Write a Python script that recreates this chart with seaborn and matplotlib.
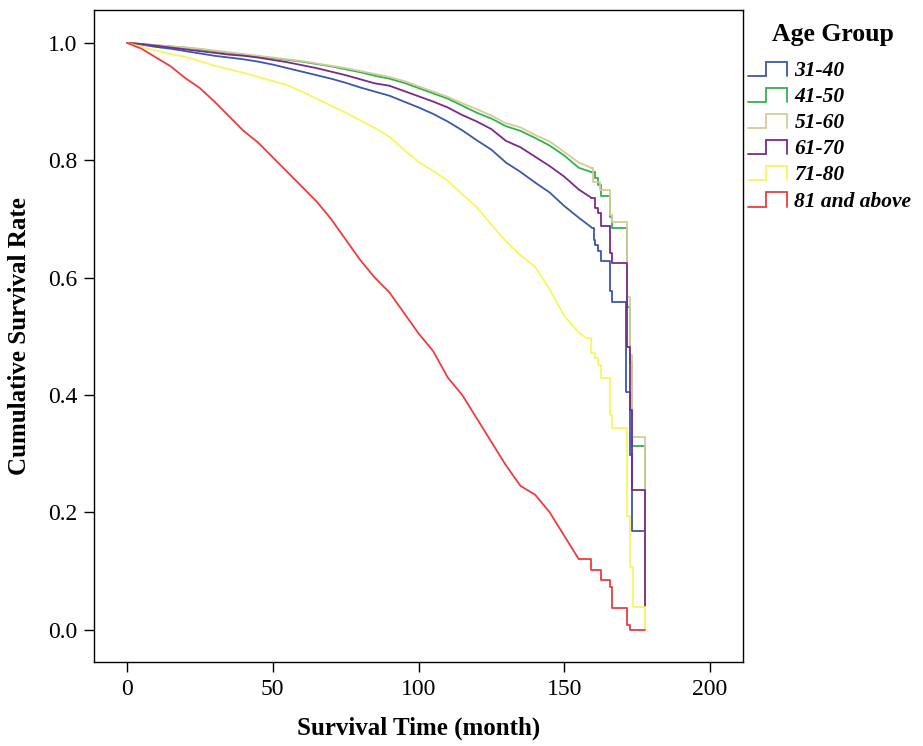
"""
Kaplan-Meier survival curves by age group
"""
import numpy as np
import pandas as pd
import matplotlib
matplotlib.use('Agg')
import matplotlib.pyplot as plt
from matplotlib.lines import Line2D
from matplotlib.legend_handler import HandlerLine2D
import seaborn as sns

# Survival estimates (month, cumulative survival)
t_3140 = [0, 5, 10, 15, 20, 25, 30, 35, 40, 45, 50, 55, 60, 65, 70, 75, 80, 85, 90, 95,
          100, 105, 110, 115, 120, 125, 130, 135, 140, 145, 150, 155, 159.5, 160.2, 160.6,
          161.5, 162.6, 165.8, 166.5, 171.3, 172.6, 173.3, 177.8]
s_3140 = [1.0, 0.997, 0.993, 0.99, 0.986, 0.982, 0.978, 0.975, 0.972, 0.968, 0.963, 0.957,
          0.951, 0.945, 0.939, 0.932, 0.924, 0.917, 0.910, 0.900, 0.890, 0.879, 0.866, 0.851,
          0.834, 0.818, 0.796, 0.780, 0.762, 0.745, 0.722, 0.702, 0.685, 0.664, 0.656, 0.645,
          0.629, 0.578, 0.559, 0.405, 0.298, 0.169, 0.04]

t_4150 = [0, 5, 10, 15, 20, 25, 30, 35, 40, 45, 50, 55, 60, 65, 70, 75, 80, 85, 90, 95,
          100, 105, 110, 115, 120, 125, 130, 135, 140, 145, 150, 155, 159.3, 160.4, 161.5,
          162.6, 165.8, 166.5, 171.6, 172.6, 173.3, 177.8]
s_4150 = [1.0, 0.998, 0.996, 0.994, 0.992, 0.989, 0.986, 0.983, 0.98, 0.977, 0.974, 0.971,
          0.968, 0.964, 0.96, 0.955, 0.950, 0.944, 0.939, 0.932, 0.923, 0.914, 0.905, 0.893,
          0.881, 0.871, 0.858, 0.850, 0.838, 0.825, 0.808, 0.787, 0.780, 0.770, 0.758, 0.739,
          0.704, 0.685, 0.55, 0.455, 0.313, 0.04]

t_5160 = [0, 5, 10, 15, 20, 25, 30, 35, 40, 45, 50, 55, 60, 65, 70, 75, 80, 85, 90, 95,
          100, 105, 110, 115, 120, 125, 130, 135, 140, 145, 150, 155, 159.3, 160.0, 162.4,
          165.8, 166.3, 171.6, 172.6, 173.3, 177.8]
s_5160 = [1.0, 0.998, 0.996, 0.994, 0.992, 0.99, 0.987, 0.984, 0.981, 0.978, 0.975, 0.972,
          0.969, 0.965, 0.961, 0.957, 0.952, 0.947, 0.942, 0.935, 0.926, 0.917, 0.908, 0.897,
          0.887, 0.876, 0.863, 0.856, 0.843, 0.832, 0.814, 0.796, 0.787, 0.763, 0.75, 0.707,
          0.695, 0.567, 0.468, 0.329, 0.04]

t_6170 = [0, 5, 10, 15, 20, 25, 30, 35, 40, 45, 50, 55, 60, 65, 70, 75, 80, 85, 90, 95,
          100, 105, 110, 115, 120, 125, 130, 135, 140, 145, 150, 155, 159.3, 160.4, 161.5,
          162.6, 165.8, 166.5, 171.6, 172.6, 173.3, 177.8]
s_6170 = [1.0, 0.998, 0.995, 0.992, 0.989, 0.986, 0.983, 0.98, 0.978, 0.975, 0.971, 0.967,
          0.962, 0.957, 0.951, 0.945, 0.938, 0.931, 0.927, 0.918, 0.909, 0.900, 0.890, 0.877,
          0.866, 0.853, 0.833, 0.822, 0.806, 0.790, 0.772, 0.750, 0.736, 0.719, 0.71, 0.688,
          0.642, 0.625, 0.482, 0.375, 0.238, 0.04]

t_7180 = [0, 5, 10, 15, 20, 25, 30, 35, 40, 45, 50, 55, 60, 65, 70, 75, 80, 85, 90, 95,
          100, 105, 110, 115, 120, 125, 130, 135, 140, 145, 150, 155, 157.6, 159.3, 160.6,
          161.7, 162.7, 165.8, 166.5, 171.6, 172.6, 173.7, 177.8]
s_7180 = [1.0, 0.993, 0.987, 0.981, 0.976, 0.969, 0.961, 0.955, 0.949, 0.942, 0.935, 0.928,
          0.917, 0.905, 0.893, 0.881, 0.868, 0.855, 0.84, 0.818, 0.797, 0.782, 0.765, 0.742,
          0.72, 0.69, 0.662, 0.638, 0.618, 0.580, 0.535, 0.506, 0.497, 0.472, 0.463, 0.451,
          0.429, 0.366, 0.344, 0.193, 0.107, 0.039, 0.0]

t_81up = [0, 5, 10, 15, 20, 25, 30, 35, 40, 45, 50, 55, 60, 65, 70, 75, 80, 85, 90, 95,
          100, 105, 110, 115, 120, 125, 130, 135, 140, 145, 150, 155, 159.3, 162.5, 165.8,
          166.2, 171.5, 172.5, 177.8]
s_81up = [1.0, 0.99, 0.975, 0.96, 0.94, 0.923, 0.90, 0.875, 0.85, 0.83, 0.805, 0.78,
          0.755, 0.73, 0.70, 0.665, 0.63, 0.60, 0.575, 0.54, 0.505, 0.475, 0.43, 0.40, 0.36,
          0.32, 0.28, 0.245, 0.23, 0.20, 0.16, 0.12, 0.102, 0.085, 0.073, 0.037, 0.008,
          0.0, 0.0]

groups = ['31-40', '41-50', '51-60', '61-70', '71-80', '81 and above']
times = [t_3140, t_4150, t_5160, t_6170, t_7180, t_81up]
survival = [s_3140, s_4150, s_5160, s_6170, s_7180, s_81up]
# month from which the sparse tail is drawn as explicit steps
step_start = [159.5, 159.3, 159.3, 159.3, 157.6, 155]
colors = ['#3c57ad', '#2fb34c', '#d3cb98', '#7a2a88', '#f9f55e', '#f03b3b']

x_ticks = [0, 50, 100, 150, 200]
y_ticks = [0.0, 0.2, 0.4, 0.6, 0.8, 1.0]


class StepHandler(HandlerLine2D):
    """Draw the step glyph used in SPSS survival legends"""
    def create_artists(self, legend, orig_handle, xdescent, ydescent,
                       width, height, fontsize, trans):
        x0, x1 = -xdescent, -xdescent + width
        xm = x0 + width * 0.47
        y0, y1 = -ydescent + height * 0.0, -ydescent + height * 0.95
        line = Line2D([x0, xm, xm, x1, x1], [y0, y0, y1, y1, y0],
                      color=orig_handle.get_color(), linewidth=1.3,
                      solid_joinstyle='miter')
        line.set_transform(trans)
        return [line]


def main():
    body, tail = [], []
    for g, t, s, ts in zip(groups, times, survival, step_start):
        d = pd.DataFrame({'time': t, 'surv': s, 'group': g})
        body.append(d[d['time'] <= ts])
        tail.append(d[d['time'] >= ts])
    df_body = pd.concat(body, ignore_index=True)
    df_tail = pd.concat(tail, ignore_index=True)
    pal = dict(zip(groups, colors))

    sns.set_theme(style='white')
    plt.rcParams['font.family'] = ['Liberation Serif', 'DejaVu Serif']
    plt.rcParams['text.color'] = 'black'
    plt.rcParams['axes.labelcolor'] = 'black'

    fig = plt.figure(figsize=(9.23, 7.46), dpi=100)
    ax = fig.add_axes([94 / 923, 1 - 662 / 746, (743 - 94) / 923, (662 - 10) / 746])

    sns.lineplot(data=df_body, x='time', y='surv', hue='group', hue_order=groups,
                 palette=pal, estimator=None, sort=False, linewidth=1.3,
                 legend=False, ax=ax)
    sns.lineplot(data=df_tail, x='time', y='surv', hue='group', hue_order=groups,
                 palette=pal, estimator=None, sort=False, drawstyle='steps-post',
                 linewidth=1.3, legend=False, ax=ax)

    ax.set_xlim(-11.3, 211.3)
    ax.set_ylim(-0.055, 1.056)
    ax.set_xticks(x_ticks)
    ax.set_xticklabels([str(v) for v in x_ticks])
    ax.set_yticks(y_ticks)
    ax.set_yticklabels([f"{v:.1f}" for v in y_ticks])
    ax.tick_params(axis='both', direction='out', length=7, width=1, color='black',
                   labelsize=17, labelcolor='black', bottom=True, left=True, pad=5)
    for side in ax.spines.values():
        side.set_color('black')
        side.set_linewidth(1.0)

    ax.set_xlabel('Survival Time (month)', fontsize=18, fontweight='bold', labelpad=12)
    ax.set_ylabel('Cumulative Survival Rate', fontsize=18, fontweight='bold', labelpad=12)

    # Legend title placed separately to match the gap above the entries
    fig.text(833 / 923, 1 - 35 / 746, 'Age Group', ha='center', va='center',
             fontsize=18.5, fontweight='bold', color='black')
    handles = [Line2D([], [], color=c) for c in colors]
    fig.legend(handles, groups, loc='upper left',
               bbox_to_anchor=(748 / 923, 1 - 61 / 746), frameon=False,
               handler_map={Line2D: StepHandler()}, handlelength=1.8,
               handletextpad=0.35, labelspacing=0.28, borderaxespad=0,
               borderpad=0, prop={'size': 15.5, 'weight': 'bold', 'style': 'italic'})

    fig.savefig('out.png', dpi=100)
    plt.close(fig)


if __name__ == "__main__":
    main()
